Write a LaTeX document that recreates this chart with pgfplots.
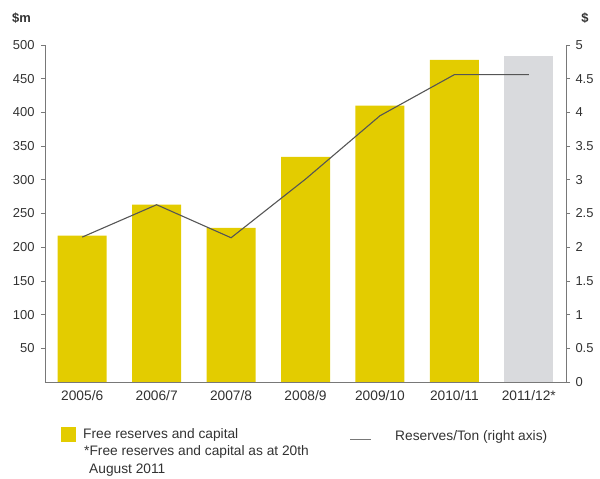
\documentclass[border=0pt]{standalone}
\usepackage{pgfplots}
\pgfplotsset{compat=1.18}
\usepackage{fontspec}
\setmainfont{Liberation Sans}
\definecolor{barY}{RGB}{227,204,0}
\definecolor{barG}{RGB}{217,218,221}
\definecolor{lineC}{RGB}{85,85,85}
\definecolor{axC}{RGB}{120,120,120}
\definecolor{txt}{RGB}{50,50,50}
\newcommand{\fs}{\fontsize{13}{15}\selectfont}
\newcommand{\fl}{\fontsize{13.8}{16}\selectfont}
\begin{document}
\begin{tikzpicture}[x=1bp,y=1bp]
\path[use as bounding box] (-45,-97) rectangle (555,382);
\begin{axis}[
  at={(0,0)}, anchor=south west,
  scale only axis, width=521bp, height=337bp,
  xmin=-0.5, xmax=6.5, ymin=0, ymax=500,
  axis x line*=bottom, axis y line*=left,
  axis line style={draw=axC, line width=0.6pt, -},
  xtick={0,...,6},
  xticklabels={2005/6,2006/7,2007/8,2008/9,2009/10,2010/11,2011/12*},
  x tick style={draw=none},
  extra x ticks={-0.5,0.5,1.5,2.5,3.5,4.5,5.5,6.5},
  extra x tick labels={},
  extra x tick style={tick align=center, major tick length=6bp, tick style={draw=axC, line width=0.6pt}},
  ytick={50,100,...,500},
  y tick style={draw=axC, line width=0.6pt},
  tick align=outside, major tick length=4bp,
  ticklabel style={font=\fs, text=txt},
  xticklabel style={font=\fl},
  /pgf/number format/assume math mode=true,
  xticklabel style={yshift=-1bp},
  yticklabel style={xshift=-3bp},
  clip=false,
]
\addplot[ybar, bar width=49bp, bar shift=0pt, fill=barY, draw=none] coordinates {(0,217) (1,263) (2,228.5) (3,334) (4,410) (5,478)};
\addplot[ybar, bar width=49bp, bar shift=0pt, fill=barG, draw=none] coordinates {(6,484)};
\end{axis}
\begin{axis}[
  at={(0,0)}, anchor=south west,
  scale only axis, width=521bp, height=337bp,
  xmin=-0.5, xmax=6.5, ymin=0, ymax=5,
  axis x line=none, axis y line*=right,
  axis line style={draw=axC, line width=0.6pt, -},
  ytick={0,0.5,...,5},
  y tick style={draw=axC, line width=0.6pt},
  tick align=outside, major tick length=4bp,
  ticklabel style={font=\fs, text=txt},
  /pgf/number format/assume math mode=true,
  yticklabel style={xshift=2bp},
  clip=false,
]
\addplot[lineC, line width=1.1pt, mark=none] coordinates {(0,2.15) (1,2.63) (2,2.14) (3,3.01) (4,3.95) (5,4.56) (6,4.56)};
\end{axis}
\node[anchor=west, text=txt, font=\fs\bfseries, inner sep=0] at (-33,364) {\$m};
\node[anchor=center, text=txt, font=\fs\bfseries, inner sep=0] at (540,364) {\$};
\fill[barY] (16,-45) rectangle (31,-60);
\node[anchor=west, text=txt, font=\fl, inner sep=0] at (38,-53) {Free reserves and capital};
\node[anchor=west, text=txt, font=\fl, inner sep=0] at (39,-70) {*Free reserves and capital as at 20th};
\node[anchor=west, text=txt, font=\fl, inner sep=0] at (44,-88) {August 2011};
\draw[axC, line width=0.8pt] (305,-57) -- (326,-57);
\node[anchor=west, text=txt, font=\fl, inner sep=0] at (350,-55) {Reserves/Ton (right axis)};
\end{tikzpicture}
\end{document}
